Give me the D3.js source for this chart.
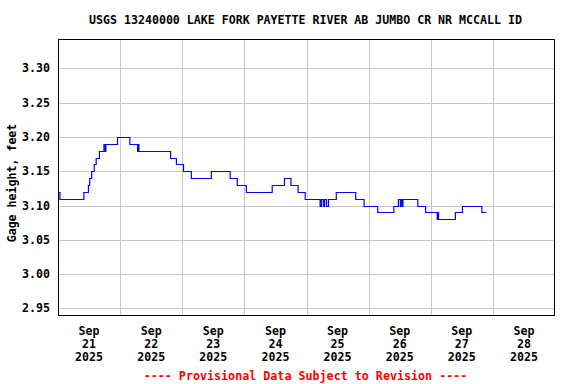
<!DOCTYPE html>
<meta charset="utf-8">
<style>
body {
  margin: 0;
  background: #fff;
  font-family: "DejaVu Sans Mono", monospace;
  font-weight: bold;
}
.grid line {
  stroke: #c8c8c8;
  stroke-width: 1;
  shape-rendering: crispEdges;
}
</style>
<body>
<script src="https://d3js.org/d3.v7.min.js"></script>
<script>

var width = 576,
    height = 384;

var title = "USGS 13240000 LAKE FORK PAYETTE RIVER AB JUMBO CR NR MCCALL ID";
var yLabel = "Gage height, feet";
var footer = "---- Provisional Data Subject to Revision ----";

// step changes of gage height (time the new value starts)
var times = [
  "2025-09-21 00:00", "2025-09-21 00:45", "2025-09-21 10:00", "2025-09-21 11:45",
  "2025-09-21 12:15", "2025-09-21 13:00", "2025-09-21 14:00", "2025-09-21 14:45",
  "2025-09-21 16:00", "2025-09-21 17:45", "2025-09-21 18:15", "2025-09-21 18:30",
  "2025-09-21 23:00", "2025-09-22 03:45", "2025-09-22 06:45", "2025-09-22 07:00",
  "2025-09-22 07:15", "2025-09-22 19:30", "2025-09-22 21:45", "2025-09-23 00:30",
  "2025-09-23 03:30", "2025-09-23 11:15", "2025-09-23 18:30", "2025-09-23 21:15",
  "2025-09-24 00:45", "2025-09-24 10:45", "2025-09-24 15:30", "2025-09-24 18:00",
  "2025-09-24 20:45", "2025-09-24 23:30", "2025-09-25 05:15", "2025-09-25 05:45",
  "2025-09-25 06:30", "2025-09-25 07:00", "2025-09-25 07:45", "2025-09-25 08:30",
  "2025-09-25 11:30", "2025-09-25 19:00", "2025-09-25 22:15", "2025-09-26 03:30",
  "2025-09-26 09:45", "2025-09-26 11:30", "2025-09-26 12:15", "2025-09-26 12:30",
  "2025-09-26 13:00", "2025-09-26 13:15", "2025-09-26 19:00", "2025-09-26 22:00",
  "2025-09-27 02:30", "2025-09-27 02:45", "2025-09-27 03:00", "2025-09-27 09:30",
  "2025-09-27 12:15", "2025-09-27 19:45", "2025-09-27 21:30"
];
var values = [
  3.12, 3.11, 3.12, 3.13,
  3.14, 3.15, 3.16, 3.17,
  3.18, 3.19, 3.18, 3.19,
  3.20, 3.19, 3.18, 3.19,
  3.18, 3.17, 3.16, 3.15,
  3.14, 3.15, 3.14, 3.13,
  3.12, 3.13, 3.14, 3.13,
  3.12, 3.11, 3.10, 3.11,
  3.10, 3.11, 3.10, 3.11,
  3.12, 3.11, 3.10, 3.09,
  3.10, 3.11, 3.10, 3.11,
  3.10, 3.11, 3.10, 3.09,
  3.08, 3.09, 3.08, 3.09,
  3.10, 3.09, 3.09
];

var yTicks = [2.95, 3.00, 3.05, 3.10, 3.15, 3.20, 3.25, 3.30];
var dayLabels = ["2025-09-21", "2025-09-22", "2025-09-23", "2025-09-24",
                 "2025-09-25", "2025-09-26", "2025-09-27", "2025-09-28"];

var parseTime = d3.timeParse("%Y-%m-%d %H:%M"),
    parseDay = d3.timeParse("%Y-%m-%d");

var data = times.map(function(t, i) {
  return {date: parseTime(t), value: values[i]};
});

var margin = {top: 39, right: 21, bottom: 68, left: 58};
var x0 = margin.left, x1 = width - margin.right,
    y0 = margin.top, y1 = height - margin.bottom;

var x = d3.scaleTime()
    .domain([parseDay("2025-09-21"), parseDay("2025-09-29")])
    .range([x0, x1]);

var y = d3.scaleLinear()
    .domain([2.939, 3.343])
    .range([y1, y0]);

var svg = d3.select("body").append("svg")
    .attr("width", width)
    .attr("height", height);

// title
svg.append("text")
    .attr("x", 305.5)
    .attr("y", 24)
    .attr("text-anchor", "middle")
    .style("font-size", "11.6px")
    .text(title);

// grid
var grid = svg.append("g").attr("class", "grid");

grid.selectAll(".hgrid")
    .data(yTicks)
  .enter().append("line")
    .attr("x1", x0).attr("x2", x1)
    .attr("y1", function(d) { return Math.round(y(d)) + 0.5; })
    .attr("y2", function(d) { return Math.round(y(d)) + 0.5; });

var midnights = d3.timeDay.range(parseDay("2025-09-22"), parseDay("2025-09-29"));
grid.selectAll(".vgrid")
    .data(midnights)
  .enter().append("line")
    .attr("y1", y0).attr("y2", y1)
    .attr("x1", function(d) { return Math.round(x(d)) + 0.5; })
    .attr("x2", function(d) { return Math.round(x(d)) + 0.5; });

// y tick labels
svg.selectAll(".ylab")
    .data(yTicks)
  .enter().append("text")
    .attr("x", 50)
    .attr("y", function(d) { return y(d) + 4; })
    .attr("text-anchor", "end")
    .style("font-size", "11.6px")
    .text(function(d) { return d3.format(".2f")(d); });

// y axis title
svg.append("text")
    .attr("transform", "translate(16," + 183 + ")rotate(-90)")
    .attr("text-anchor", "middle")
    .style("font-size", "11.6px")
    .text(yLabel);

// x tick labels (centered on noon of each day)
var xl = svg.selectAll(".xlab")
    .data(dayLabels.map(parseDay))
  .enter().append("text")
    .attr("text-anchor", "middle")
    .style("font-size", "11.6px")
    .attr("transform", function(d) {
      return "translate(" + x(d3.timeHour.offset(d, 12)) + ",0)";
    });

xl.append("tspan").attr("x", 0).attr("y", 335).text(d3.timeFormat("%b"));
xl.append("tspan").attr("x", 0).attr("y", 348).text(d3.timeFormat("%d"));
xl.append("tspan").attr("x", 0).attr("y", 361).text(d3.timeFormat("%Y"));

// data line
var line = d3.line()
    .curve(d3.curveStepAfter)
    .x(function(d) { return x(d.date); })
    .y(function(d) { return Math.round(y(d.value)) + 0.5; });

svg.append("path")
    .datum(data)
    .attr("fill", "none")
    .attr("stroke", "#0000ff")
    .attr("stroke-width", 1.2)
    .attr("d", line);

// frame
svg.append("rect")
    .attr("x", x0 + 0.5)
    .attr("y", y0 + 0.5)
    .attr("width", x1 - x0 - 1)
    .attr("height", y1 - y0 - 1)
    .attr("fill", "none")
    .attr("stroke", "#000")
    .attr("stroke-width", 1)
    .style("shape-rendering", "crispEdges");

// footer
svg.append("text")
    .attr("x", 305.5)
    .attr("y", 380)
    .attr("text-anchor", "middle")
    .attr("fill", "#ff0000")
    .style("font-size", "11.7px")
    .text(footer);

</script>
